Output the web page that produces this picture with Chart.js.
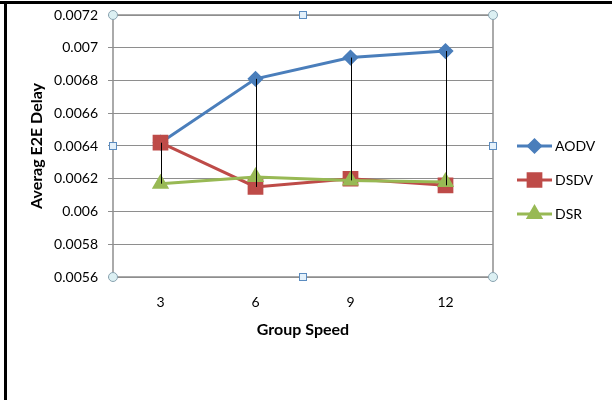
<!DOCTYPE html>
<html>
<head>
<meta charset="utf-8">
<script src="https://cdn.jsdelivr.net/npm/chart.js@4.4.1/dist/chart.umd.min.js"></script>
<style>
html,body{margin:0;padding:0;background:#fff;}
#wrap{width:612px;height:400px;position:relative;}
</style>
</head>
<body>
<div id="wrap"><canvas id="c" width="612" height="400"></canvas></div>
<script>
const categories = ['3', '6', '9', '12'];
const aodv = [0.00642, 0.00681, 0.00694, 0.00698];
const dsdv = [0.00642, 0.00615, 0.00620, 0.00616];
const dsr  = [0.00617, 0.00621, 0.00619, 0.00618];
const yTicks = [0.0056, 0.0058, 0.006, 0.0062, 0.0064, 0.0066, 0.0068, 0.007, 0.0072];
const seriesNames = ['AODV', 'DSDV', 'DSR'];
const xTitle = 'Group Speed';
const yTitle = 'Averag E2E Delay';

const FONT = 'Lato, "Open Sans", sans-serif';
const colors = ['#4a7ebb', '#be4b48', '#98b954'];
const styles = ['rectRot', 'rect', 'triangle'];
const radii = [6, 9, 7];

const decor = {
  id: 'decor',
  beforeDatasetsDraw(chart) {
    const {ctx, chartArea: a} = chart;
    ctx.save();
    ctx.strokeStyle = '#8e8e8e';
    ctx.lineWidth = 1.5;
    ctx.strokeRect(a.left, a.top, a.right - a.left, a.bottom - a.top);
    ctx.restore();
  },
  afterDatasetsDraw(chart) {
    const {ctx, chartArea: a, scales} = chart;
    const x = scales.x, y = scales.y;
    ctx.save();
    ctx.strokeStyle = '#000';
    ctx.lineWidth = 1;
    categories.forEach((c, i) => {
      const vals = [aodv[i], dsdv[i], dsr[i]];
      const px = Math.round(x.getPixelForValue(i)) + 0.5;
      ctx.beginPath();
      ctx.moveTo(px, y.getPixelForValue(Math.max(...vals)));
      ctx.lineTo(px, y.getPixelForValue(Math.min(...vals)));
      ctx.stroke();
    });
    ctx.restore();
  },
  afterDraw(chart) {
    const {ctx, chartArea: a} = chart;
    ctx.save();
    ctx.fillStyle = '#000';
    ctx.fillRect(0, 1, 612, 3);
    ctx.fillRect(4, 1, 3, 399);
    const mx = (a.left + a.right) / 2, my = (a.top + a.bottom) / 2;
    [[a.left, a.top], [a.right, a.top], [a.left, a.bottom], [a.right, a.bottom]].forEach(([hx, hy]) => {
      ctx.beginPath();
      ctx.arc(hx, hy, 4.5, 0, Math.PI * 2);
      ctx.fillStyle = '#dcf0f3';
      ctx.fill();
      ctx.strokeStyle = '#8aa3b0';
      ctx.lineWidth = 1;
      ctx.stroke();
    });
    [[mx, a.top], [mx, a.bottom], [a.left, my], [a.right, my]].forEach(([hx, hy]) => {
      ctx.fillStyle = '#e4f1fb';
      ctx.fillRect(Math.round(hx) - 3.5, Math.round(hy) - 3.5, 7, 7);
      ctx.strokeStyle = '#5b8cc0';
      ctx.lineWidth = 1;
      ctx.strokeRect(Math.round(hx) - 3.5, Math.round(hy) - 3.5, 7, 7);
    });
    const lx = 517, ly0 = 146, dy = 34;
    [0, 1, 2].forEach(i => {
      const ds = chart.data.datasets[i];
      const ly = ly0 + i * dy;
      ctx.strokeStyle = ds.borderColor;
      ctx.lineWidth = 3;
      ctx.beginPath();
      ctx.moveTo(lx, ly);
      ctx.lineTo(lx + 35, ly);
      ctx.stroke();
      ctx.fillStyle = ds.borderColor;
      ctx.strokeStyle = ds.borderColor;
      Chart.helpers.drawPoint(ctx, {pointStyle: ds.pointStyle, radius: ds.pointRadius, borderWidth: 1}, lx + 17.5, ly);
      ctx.fillStyle = '#000';
      ctx.font = '14px ' + FONT;
      ctx.textBaseline = 'middle';
      ctx.textAlign = 'left';
      ctx.fillText(ds.label, lx + 38, ly);
    });
    ctx.restore();
  }
};

const mk = (i, data, order) => ({
  label: seriesNames[i],
  data: data,
  order: order,
  borderColor: colors[i],
  backgroundColor: colors[i],
  pointBackgroundColor: colors[i],
  pointBorderColor: colors[i],
  pointStyle: styles[i],
  pointRadius: radii[i],
  pointHoverRadius: radii[i],
  borderWidth: 3,
  tension: 0
});

new Chart(document.getElementById('c'), {
  type: 'line',
  data: {
    labels: categories,
    datasets: [mk(0, aodv, 2), mk(1, dsdv, 1), mk(2, dsr, 0)]
  },
  options: {
    responsive: false,
    animation: false,
    devicePixelRatio: 1,
    layout: {padding: {top: 15, right: 119, bottom: 60, left: 0}},
    plugins: {legend: {display: false}, tooltip: {enabled: false}},
    scales: {
      x: {
        offset: true,
        grid: {display: false, drawTicks: false},
        border: {display: false},
        ticks: {color: '#000', font: {family: FONT, size: 14}, padding: 17},
        title: {display: true, text: xTitle, color: '#000', font: {family: FONT, size: 16, weight: 'bold'}, padding: {top: 0, bottom: 1}},
        afterFit(s) { s.height = 63; s.paddingLeft = 0; s.paddingRight = 0; }
      },
      y: {
        min: 0.0056, max: 0.0072,
        afterBuildTicks(s) { s.ticks = yTicks.map(v => ({value: v})); },
        grid: {color: '#8e8e8e', lineWidth: 1, drawTicks: true, tickLength: 5},
        border: {display: false},
        ticks: {
          color: '#000', font: {family: FONT, size: 14}, padding: 10,
          callback: v => String(Number(Number(v).toFixed(4)))
        },
        title: {display: true, text: yTitle, color: '#000', font: {family: FONT, size: 16, weight: 'bold'}, padding: {top: 27, bottom: 0}},
        afterFit(s) { s.width = 113; s.paddingTop = 0; s.paddingBottom = 0; }
      }
    }
  },
  plugins: [decor]
});
</script>
</body>
</html>
